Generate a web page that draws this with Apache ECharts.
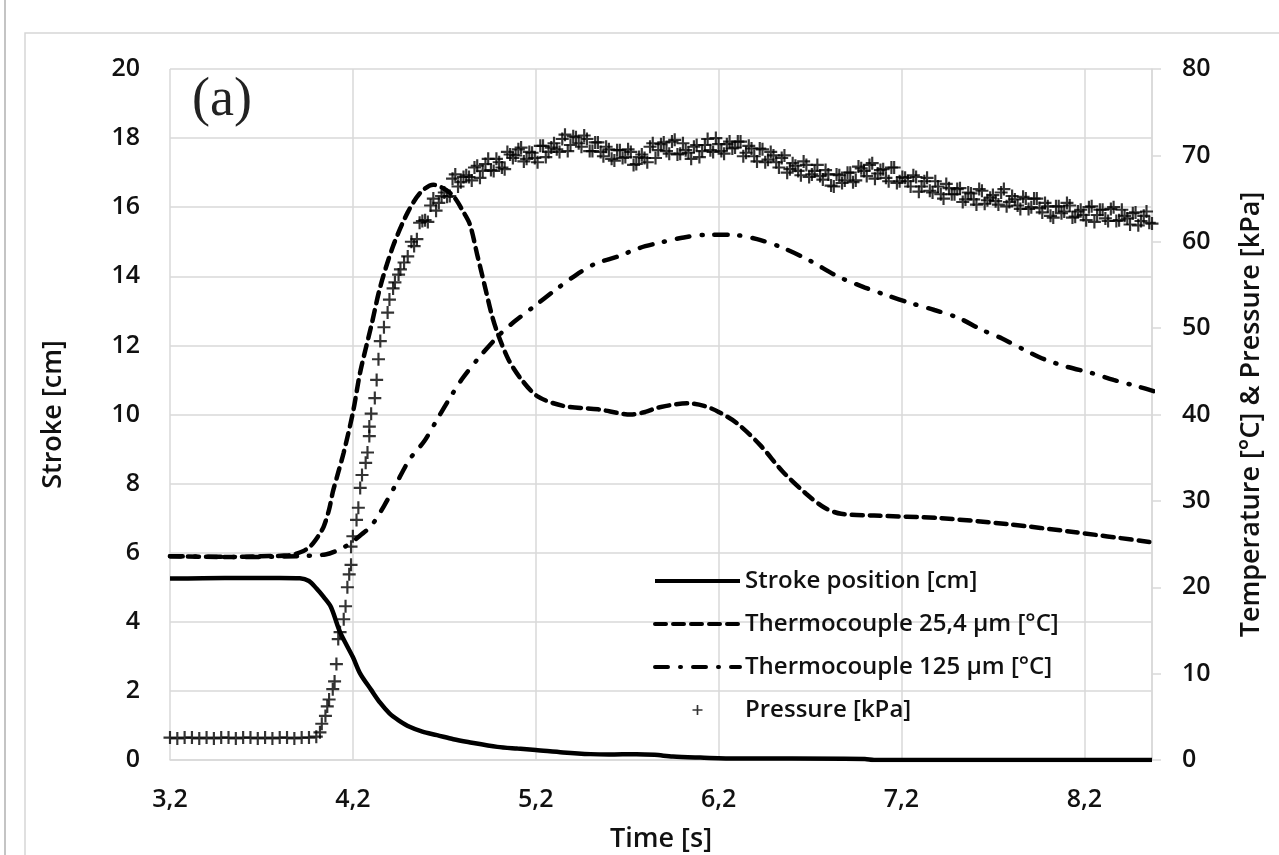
<!DOCTYPE html>
<html>
<head>
<meta charset="utf-8">
<script src="https://cdn.jsdelivr.net/npm/echarts@6/dist/echarts.min.js"></script>
<style>
  html, body { margin: 0; padding: 0; background: #fff; }
  #chart { width: 1279px; height: 855px; }
</style>
</head>
<body>
<div id="chart"></div>
<script>
// time axis starts at 3.2 s, ticks every 1 s (3,2 4,2 ... 8,2)
const T0 = 3.2
const T_END = 8.57

// [time s, stroke cm]
const strokeCm = [
  [3.2, 5.25], [3.5, 5.27], [3.8, 5.27], [3.91, 5.26], [3.96, 5.18], [4.0, 4.97],
  [4.04, 4.72], [4.08, 4.43], [4.13, 3.7], [4.2, 2.98], [4.24, 2.5], [4.3, 2.03],
  [4.35, 1.65], [4.4, 1.35], [4.45, 1.15], [4.51, 0.96], [4.58, 0.82], [4.66, 0.72],
  [4.75, 0.6], [4.83, 0.52], [4.99, 0.38], [5.1, 0.33], [5.2, 0.29], [5.35, 0.22],
  [5.5, 0.17], [5.6, 0.16], [5.75, 0.17], [5.85, 0.15], [5.95, 0.1], [6.1, 0.07],
  [6.3, 0.04], [6.6, 0.04], [7.0, 0.03], [7.05, 0.0], [8.57, 0.0]
]

// [time s, °C]
const tc25 = [
  [3.2, 23.6], [3.5, 23.5], [3.7, 23.6], [3.85, 23.7], [3.93, 24.2], [3.97, 24.8],
  [4.01, 25.9], [4.04, 27.0], [4.07, 29.0], [4.09, 31.0], [4.12, 33.3], [4.15, 35.6],
  [4.2, 40.2], [4.24, 44.9], [4.3, 50.2], [4.35, 54.8], [4.42, 59.5], [4.5, 63.4],
  [4.57, 65.7], [4.64, 66.6], [4.71, 66.0], [4.76, 65.0], [4.8, 63.6], [4.84, 62.0],
  [4.88, 58.5], [4.92, 55.0], [4.96, 51.5], [4.99, 49.5], [5.05, 46.4], [5.12, 44.1],
  [5.21, 42.1], [5.35, 41.0], [5.54, 40.6], [5.72, 40.0], [5.8, 40.3], [5.87, 40.8],
  [6.03, 41.3], [6.12, 41.0], [6.2, 40.3], [6.3, 39.0], [6.43, 36.4], [6.55, 33.4],
  [6.68, 30.8], [6.78, 29.2], [6.87, 28.5], [7.05, 28.3], [7.41, 28.0], [7.78, 27.3],
  [8.14, 26.4], [8.57, 25.2]
]

const tc125 = [
  [3.2, 23.6], [3.6, 23.5], [3.9, 23.6], [4.05, 23.8], [4.12, 24.3], [4.18, 25.0],
  [4.24, 26.0], [4.3, 27.1], [4.37, 29.4], [4.44, 32.1], [4.51, 34.8], [4.59, 36.9],
  [4.66, 39.4], [4.73, 41.9], [4.8, 44.2], [4.89, 46.6], [5.0, 49.2], [5.08, 50.7],
  [5.19, 52.5], [5.3, 54.3], [5.41, 56.0], [5.52, 57.4], [5.65, 58.3], [5.77, 59.3],
  [5.88, 59.9], [6.01, 60.5], [6.14, 60.8], [6.27, 60.8], [6.41, 60.3], [6.55, 59.3],
  [6.7, 57.8], [6.85, 56.0], [7.0, 54.7], [7.12, 53.8], [7.25, 52.9], [7.38, 52.1],
  [7.51, 51.2], [7.64, 49.8], [7.75, 48.8], [7.87, 47.5], [7.98, 46.4], [8.11, 45.5],
  [8.24, 44.8], [8.36, 44.0], [8.5, 43.2], [8.58, 42.7]
]

// [time s, kPa] read marker by marker: baseline, rise and first pass over the plateau
const pressureKPa = [
  [3.20, 2.6], [3.24, 2.5], [3.28, 2.6], [3.32, 2.6], [3.36, 2.5], [3.40, 2.6], [3.44, 2.5],
  [3.48, 2.6], [3.52, 2.6], [3.56, 2.5], [3.60, 2.6], [3.64, 2.6], [3.68, 2.5], [3.72, 2.6],
  [3.76, 2.5], [3.80, 2.6], [3.84, 2.6], [3.88, 2.5], [3.92, 2.6], [3.96, 2.6], [4.00, 2.7],
  [4.02, 3.2], [4.03, 4.2], [4.05, 5.1], [4.06, 6.2], [4.07, 7.0], [4.09, 8.2], [4.10, 9.1],
  [4.11, 11.1], [4.12, 14.0], [4.13, 14.8], [4.15, 16.3], [4.16, 17.8], [4.17, 20.0],
  [4.18, 21.5], [4.19, 22.6], [4.19, 24.7], [4.20, 25.9], [4.22, 27.8], [4.23, 29.2],
  [4.24, 31.5], [4.25, 33.0], [4.27, 34.4], [4.28, 35.6], [4.29, 37.5], [4.29, 38.6],
  [4.30, 40.1], [4.32, 41.9], [4.33, 44.0], [4.34, 46.4], [4.35, 48.5], [4.37, 50.1],
  [4.39, 51.8], [4.40, 53.3], [4.42, 54.6], [4.43, 55.3], [4.45, 56.2], [4.46, 56.8],
  [4.48, 57.6], [4.50, 58.3],
  [4.52, 60.0], [4.55, 60.3], [4.58, 62.4], [4.61, 62.3], [4.64, 65.0], [4.67, 64.5],
  [4.70, 65.7], [4.73, 65.3], [4.76, 67.8], [4.79, 66.9], [4.82, 67.7], [4.85, 67.1],
  [4.88, 68.8], [4.91, 68.2], [4.94, 69.6], [4.97, 68.2], [5.00, 69.2], [5.03, 68.4],
  [5.06, 70.1], [5.09, 70.0], [5.12, 70.9], [5.15, 69.6], [5.18, 70.3], [5.21, 69.2],
  [5.24, 71.1], [5.27, 70.4], [5.30, 71.4], [5.33, 70.4], [5.36, 72.4], [5.39, 71.2],
  [5.42, 72.1], [5.45, 71.0], [5.48, 71.9], [5.51, 70.5], [5.54, 71.5], [5.57, 69.9],
  [5.60, 70.7], [5.63, 69.4], [5.66, 70.6], [5.69, 69.8], [5.72, 70.4], [5.75, 69.0],
  [5.78, 70.1], [5.81, 69.2], [5.84, 71.4], [5.87, 70.6], [5.90, 71.5], [5.93, 70.2],
  [5.96, 71.8], [5.99, 70.2], [6.02, 70.6], [6.05, 69.6], [6.08, 71.2], [6.11, 70.5],
  [6.14, 71.9], [6.17, 70.4], [6.20, 71.3], [6.23, 70.2], [6.26, 71.6], [6.29, 70.9],
  [6.32, 71.6], [6.35, 70.3], [6.38, 70.8], [6.41, 69.3], [6.44, 70.7], [6.47, 69.5],
  [6.50, 70.0], [6.53, 68.6], [6.56, 70.0], [6.59, 68.4], [6.62, 68.8], [6.65, 67.7],
  [6.68, 68.9], [6.71, 67.8], [6.74, 68.9], [6.77, 67.2], [6.80, 67.8], [6.83, 66.4],
  [6.86, 67.7], [6.89, 67.1], [6.92, 68.0], [6.95, 67.1], [6.98, 68.5], [7.01, 67.6],
  [7.04, 69.1], [7.07, 67.9], [7.10, 68.4], [7.13, 67.0], [7.16, 68.6], [7.19, 67.0],
  [7.22, 67.4], [7.25, 66.4], [7.28, 67.5], [7.31, 66.4], [7.34, 67.4], [7.37, 65.7],
  [7.40, 66.4], [7.43, 65.0], [7.46, 66.2], [7.49, 65.5], [7.52, 66.2], [7.55, 64.9],
  [7.58, 65.6], [7.61, 64.3], [7.64, 65.9], [7.67, 64.8], [7.70, 65.4], [7.73, 64.3],
  [7.76, 66.1], [7.79, 64.6], [7.82, 64.9], [7.85, 63.8], [7.88, 65.0], [7.91, 64.0],
  [7.94, 65.0], [7.97, 63.4], [8.00, 64.1], [8.03, 62.8], [8.06, 64.1], [8.09, 63.5],
  [8.12, 64.2], [8.15, 62.9], [8.18, 63.7], [8.21, 62.5], [8.24, 64.1], [8.27, 63.1],
  [8.30, 63.7], [8.33, 62.4], [8.36, 64.0], [8.39, 62.5], [8.42, 63.0], [8.45, 62.0],
  [8.48, 63.4], [8.51, 62.4], [8.54, 63.5], [8.57, 62.1]
]

// markers lying in between the ones above on the plateau
const pressureKPaB = [
  [4.535, 59.5], [4.565, 62.2], [4.595, 62.5], [4.625, 64.2], [4.655, 63.6], [4.685, 65.3],
  [4.715, 65.2], [4.745, 67.3], [4.775, 66.4], [4.805, 67.5], [4.835, 67.5], [4.865, 68.6],
  [4.895, 67.4], [4.925, 69.0], [4.955, 68.3], [4.985, 69.6], [5.015, 68.6], [5.045, 70.4],
  [5.075, 69.7], [5.105, 70.7], [5.135, 69.3], [5.165, 70.4], [5.195, 69.7], [5.225, 71.1],
  [5.255, 69.8], [5.285, 70.9], [5.315, 70.7], [5.345, 71.9], [5.375, 70.5], [5.405, 72.2],
  [5.435, 71.4], [5.465, 72.3], [5.495, 70.5], [5.525, 71.5], [5.555, 70.4], [5.585, 71.0],
  [5.615, 69.6], [5.645, 70.6], [5.675, 69.7], [5.705, 70.7], [5.735, 68.9], [5.765, 69.8],
  [5.795, 69.7], [5.825, 71.0], [5.855, 69.7], [5.885, 71.3], [5.915, 70.5], [5.945, 71.6],
  [5.975, 70.1], [6.005, 71.4], [6.035, 70.3], [6.065, 71.0], [6.095, 69.8], [6.125, 71.2],
  [6.155, 70.6], [6.185, 72.0], [6.215, 70.5], [6.245, 71.3], [6.275, 70.8], [6.305, 71.6],
  [6.335, 69.9], [6.365, 71.1], [6.395, 69.9], [6.425, 70.8], [6.455, 69.2], [6.485, 70.4],
  [6.515, 69.2], [6.545, 69.7], [6.575, 68.0], [6.605, 69.1], [6.635, 68.2], [6.665, 69.3],
  [6.695, 67.5], [6.725, 68.2], [6.755, 67.6], [6.785, 68.3], [6.815, 66.5], [6.845, 67.8],
  [6.875, 66.8], [6.905, 68.0], [6.935, 66.9], [6.965, 68.7], [6.995, 68.2], [7.025, 68.9],
  [7.055, 67.3], [7.085, 68.3], [7.115, 67.4], [7.145, 68.6], [7.175, 66.8], [7.205, 67.5],
  [7.235, 67.0], [7.265, 67.7], [7.295, 65.8], [7.325, 67.0], [7.355, 65.9], [7.385, 67.0],
  [7.415, 65.5], [7.445, 66.7], [7.475, 65.5], [7.505, 66.1], [7.535, 64.6], [7.565, 65.7],
  [7.595, 64.9], [7.625, 66.1], [7.655, 64.4], [7.685, 65.1], [7.715, 64.7], [7.745, 65.7],
  [7.775, 64.1], [7.805, 65.3], [7.835, 64.2], [7.865, 65.2], [7.895, 63.8], [7.925, 65.0],
  [7.955, 63.9], [7.985, 64.5], [8.015, 63.0], [8.045, 64.1], [8.075, 63.3], [8.105, 64.5],
  [8.135, 62.8], [8.165, 63.5], [8.195, 63.1], [8.225, 64.0], [8.255, 62.3], [8.285, 63.7],
  [8.315, 62.7], [8.345, 63.8], [8.375, 62.4], [8.405, 63.7], [8.435, 62.7], [8.465, 63.3],
  [8.495, 61.9], [8.525, 63.0], [8.555, 62.2]
]

const seriesNames = ['Stroke position [cm]', 'Thermocouple 25,4 µm [°C]', 'Thermocouple 125 µm [°C]', 'Pressure [kPa]']

const FONT = '"Open Sans", "DejaVu Sans", sans-serif'
const PLUS = 'path://M5,0 L7,0 L7,5 L12,5 L12,7 L7,7 L7,12 L5,12 L5,7 L0,7 L0,5 L5,5 Z'

const shift = arr => arr.map(([t, v]) => [t - T0, v])

const chart = echarts.init(document.getElementById('chart'))

chart.setOption({
  animation: false,
  backgroundColor: '#fff',
  textStyle: { fontFamily: FONT },
  grid: { left: 170, right: 127, top: 69, bottom: 95, outerBoundsMode: 'none' },
  legend: {
    orient: 'vertical',
    left: 648,
    top: 563,
    itemWidth: 85,
    itemHeight: 10,
    itemGap: 17,
    textStyle: { fontFamily: FONT, fontSize: 24, color: '#111', fontWeight: 600, lineHeight: 26 },
    data: [
      { name: seriesNames[0], itemStyle: { opacity: 0 }, lineStyle: { width: 4 } },
      { name: seriesNames[1], itemStyle: { opacity: 0 }, lineStyle: { width: 4 } },
      { name: seriesNames[2], itemStyle: { opacity: 0 }, lineStyle: { width: 4 } },
      { name: seriesNames[3] }
    ]
  },
  xAxis: {
    type: 'value',
    min: 0,
    max: T_END - T0,
    interval: 1,
    name: 'Time [s]',
    nameLocation: 'middle',
    nameGap: 66,
    nameTextStyle: { fontSize: 27, color: '#111', fontWeight: 600 },
    axisLine: { lineStyle: { color: '#d9d9d9', width: 1.5 } },
    axisTick: { show: false },
    axisLabel: {
      margin: 27,
      fontSize: 25,
      color: '#111',
      fontWeight: 600,
      formatter: v => Math.abs(v - Math.round(v)) < 1e-6 ? (v + T0).toFixed(1).replace('.', ',') : ''
    },
    splitLine: { show: true, lineStyle: { color: '#d9d9d9', width: 1.5 } }
  },
  yAxis: [
    {
      type: 'value',
      min: 0,
      max: 20,
      interval: 2,
      name: 'Stroke [cm]',
      nameLocation: 'middle',
      nameGap: 103,
      nameTextStyle: { fontSize: 27, color: '#111', fontWeight: 600 },
      axisLine: { show: false },
      axisTick: { show: false },
      axisLabel: { margin: 30, fontSize: 25, color: '#111', fontWeight: 600 },
      splitLine: { show: true, lineStyle: { color: '#d9d9d9', width: 1.5 } }
    },
    {
      type: 'value',
      min: 0,
      max: 80,
      interval: 10,
      position: 'right',
      name: 'Temperature [°C] & Pressure [kPa]',
      nameLocation: 'middle',
      nameGap: 86,
      nameRotate: 90,
      nameTextStyle: { fontSize: 27, color: '#111', fontWeight: 600 },
      axisLine: { show: true, lineStyle: { color: '#d9d9d9', width: 1.5 } },
      axisTick: { show: true, length: 9, lineStyle: { color: '#d9d9d9', width: 1.5 } },
      axisLabel: { margin: 30, fontSize: 25, color: '#111', fontWeight: 600 },
      splitLine: { show: false }
    }
  ],
  series: [
    {
      name: seriesNames[0],
      type: 'line',
      yAxisIndex: 0,
      data: shift(strokeCm),
      smooth: 0.3,
      showSymbol: false,
      symbol: 'none',
      lineStyle: { color: '#000', width: 4.5 },
      itemStyle: { color: '#000' },
      z: 4
    },
    {
      name: seriesNames[1],
      type: 'line',
      yAxisIndex: 1,
      data: shift(tc25),
      smooth: 0.3,
      showSymbol: false,
      symbol: 'none',
      lineStyle: { color: '#000', width: 4.5, type: [11, 7], cap: 'round' },
      itemStyle: { color: '#000' },
      z: 3
    },
    {
      name: seriesNames[2],
      type: 'line',
      yAxisIndex: 1,
      data: shift(tc125),
      smooth: 0.3,
      showSymbol: false,
      symbol: 'none',
      lineStyle: { color: '#000', width: 4.5, type: [13, 12, 1, 12], cap: 'round' },
      itemStyle: { color: '#000' },
      z: 3
    },
    {
      name: seriesNames[3],
      type: 'scatter',
      yAxisIndex: 1,
      data: shift(pressureKPa.concat(pressureKPaB)),
      symbol: PLUS,
      symbolSize: 13,
      itemStyle: { color: '#000' },
      z: 2
    }
  ],
  graphic: [
    {
      type: 'rect',
      shape: { x: 25, y: 33, width: 1300, height: 900 },
      style: { fill: 'none', stroke: '#d6d6d6', lineWidth: 1.5 },
      silent: true
    },
    {
      type: 'line',
      shape: { x1: 5, y1: 0, x2: 5, y2: 855 },
      style: { stroke: '#b0b0b0', lineWidth: 1.5 },
      silent: true
    },
    {
      type: 'text',
      left: 192,
      top: 74,
      style: { text: '(a)', font: '54px "Liberation Serif", "DejaVu Serif", serif', fill: '#222' },
      silent: true
    }
  ]
})
</script>
</body>
</html>
